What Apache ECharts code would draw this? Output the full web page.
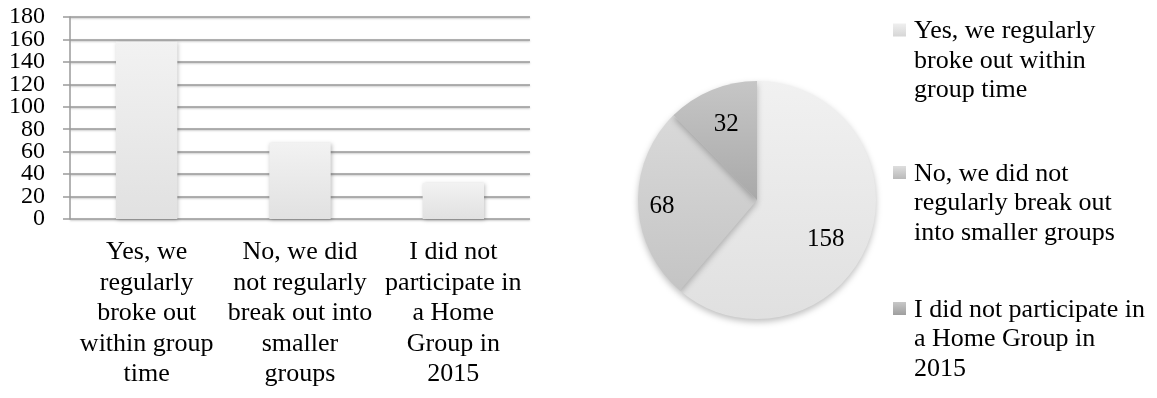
<!DOCTYPE html>
<html>
<head>
<meta charset="utf-8">
<script src="https://cdn.jsdelivr.net/npm/echarts@6/dist/echarts.min.js"></script>
<style>
  html, body { margin: 0; padding: 0; background: #fff; }
  #chart { width: 1157px; height: 398px; }
</style>
</head>
<body>
<div id="chart"></div>
<script>
// Survey responses: did the home group break out into smaller groups?
const categories = [
  'Yes, we\nregularly\nbroke out\nwithin group\ntime',
  'No, we did\nnot regularly\nbreak out into\nsmaller\ngroups',
  'I did not\nparticipate in\na Home\nGroup in\n2015'
];
const legendNames = [
  'Yes, we regularly\nbroke out within\ngroup time',
  'No, we did not\nregularly break out\ninto smaller groups',
  'I did not participate in\na Home Group in\n2015'
];
const counts = [158, 68, 32];
const yTicks = { min: 0, max: 180, interval: 20 };
const yTickLabels = ['0', '20', '40', '60', '80', '100', '120', '140', '160', '180'];

const FONT = "'Liberation Serif', 'Times New Roman', serif";

function vGrad(top, bottom, y0, y1) {
  return new echarts.graphic.LinearGradient(0, y0 || 0, 0, y1 === undefined ? 1 : y1, [
    { offset: 0, color: top },
    { offset: 1, color: bottom }
  ]);
}

const sliceShades = [
  ['#f1f1f1', '#e0e0e0'],
  ['#d9d9d9', '#c4c4c4'],
  ['#c6c6c6', '#a9a9a9']
];
const markerShades = [
  ['#efefef', '#d6d6d6'],
  ['#dedede', '#b9b9b9'],
  ['#c8c8c8', '#9e9e9e']
];

// Legend: each entry is a 3-line block; the swatch sits beside its first line.
const LEG_FONT = 26, LEG_LH = 29.5, SW = 13;
const LEG_H = LEG_LH * 3;
const swTop = LEG_LH / 2 - 1.5 - SW / 2;
const swatchIcon = 'path://M0,0L0.01,0Z M0,' + swTop + 'L' + SW + ',' + swTop + 'L' + SW + ',' + (swTop + SW) +
  'L0,' + (swTop + SW) + 'Z M' + SW + ',' + LEG_H + 'L' + (SW - 0.01) + ',' + LEG_H + 'Z';
const legendTops = [16.75, 159.25, 295.25];

// value label nudges (px) away from the mid-radius anchor of each slice
const labelNudge = [[10, 17.5], [-32.5, 4], [-7, -17.5]];

function pieLabel(i) {
  const dx = labelNudge[i][0], dy = labelNudge[i][1];
  return {
    padding: [0, dx < 0 ? -2 * dx : 0, 0, dx > 0 ? 2 * dx : 0],
    formatter: dy >= 0 ? '{s| }\n{v|{c}}' : '{v|{c}}\n{s| }',
    rich: {
      s: { fontSize: 1, lineHeight: 2 * Math.abs(dy) },
      v: { fontFamily: FONT, fontSize: 25, lineHeight: 28, color: '#000' }
    }
  };
}

const chart = echarts.init(document.getElementById('chart'), null, { renderer: 'canvas' });

chart.setOption({
  animation: false,
  backgroundColor: '#ffffff',
  textStyle: { fontFamily: FONT },
  grid: { left: 70, right: 627, top: 17, bottom: 179, containLabel: false },
  xAxis: {
    type: 'category',
    data: categories,
    axisLine: { show: false },
    axisTick: { show: false },
    axisLabel: {
      interval: 0,
      margin: 18,
      fontFamily: FONT,
      fontSize: 26,
      lineHeight: 30.5,
      color: '#000',
      verticalAlign: 'top'
    }
  },
  yAxis: [
    {
      // value scale for the bars: line, ticks and gridlines
      type: 'value',
      position: 'left',
      min: yTicks.min,
      max: yTicks.max,
      interval: yTicks.interval,
      axisLine: { show: true, lineStyle: { color: '#9a9a9a', width: 1.5 } },
      axisTick: { show: true, length: 7, lineStyle: { color: '#9a9a9a', width: 1.5 } },
      splitLine: {
        show: true,
        lineStyle: {
          color: '#999999', width: 1.5,
          shadowColor: 'rgba(0,0,0,0.25)', shadowBlur: 2, shadowOffsetY: 1
        }
      },
      axisLabel: { show: false }
    },
    {
      // tick values, all shown even though the large glyphs sit close together
      type: 'category',
      position: 'left',
      data: yTickLabels,
      boundaryGap: false,
      axisLine: { show: false },
      axisTick: { show: false },
      splitLine: { show: false },
      axisLabel: {
        interval: 0,
        margin: 25,
        fontFamily: FONT,
        fontSize: 24,
        color: '#000'
      }
    }
  ],
  legend: legendNames.map((name, i) => ({
    orient: 'vertical',
    left: 893,
    top: legendTops[i],
    padding: 0,
    itemWidth: SW,
    itemHeight: LEG_H,
    symbolKeepAspect: false,
    icon: swatchIcon,
    data: [{
      name: name,
      itemStyle: {
        color: vGrad(markerShades[i][0], markerShades[i][1], swTop / LEG_H, (swTop + SW) / LEG_H)
      }
    }],
    textStyle: {
      fontFamily: FONT,
      fontSize: LEG_FONT,
      lineHeight: LEG_LH,
      color: '#000',
      padding: [0, 0, 0, 3]
    }
  })),
  series: [
    {
      type: 'bar',
      yAxisIndex: 0,
      data: counts,
      barWidth: '40%',
      itemStyle: {
        color: vGrad('#f2f2f2', '#e1e1e1'),
        shadowColor: 'rgba(0,0,0,0.25)',
        shadowBlur: 4,
        shadowOffsetX: 1,
        shadowOffsetY: 1
      }
    },
    {
      type: 'pie',
      center: [757, 200],
      radius: 119,
      startAngle: 90,
      clockwise: true,
      itemStyle: {
        shadowColor: 'rgba(0,0,0,0.25)',
        shadowBlur: 6,
        shadowOffsetY: 3
      },
      label: {
        show: true,
        position: 'inside',
        fontFamily: FONT,
        fontSize: 25,
        color: '#000'
      },
      labelLine: { show: false },
      data: counts.map((v, i) => ({
        name: legendNames[i],
        value: v,
        itemStyle: { color: vGrad(sliceShades[i][0], sliceShades[i][1]) },
        label: pieLabel(i)
      }))
    }
  ]
});
</script>
</body>
</html>
